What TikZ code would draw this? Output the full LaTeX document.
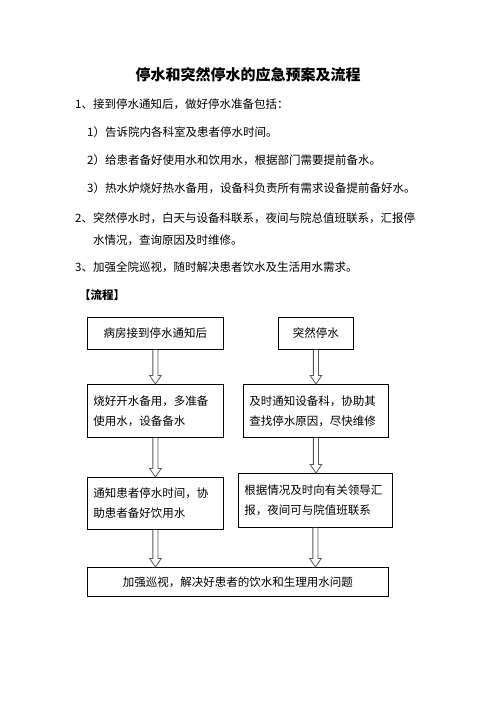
\documentclass[tikz,border=0pt]{standalone}
\usepackage{fontspec}
\setmainfont{Noto Sans CJK SC}
\usetikzlibrary{calc}
\tikzset{
  txt/.style={anchor=west,inner sep=0pt,font=\fontsize{11.5}{20}\selectfont},
  box/.style={draw=black,line width=0.9pt,anchor=north west,inner xsep=6pt,inner ysep=0pt,
    font=\fontsize{11.5}{20}\selectfont},
  lbox/.style={box,align=left,text width=#1},
  harrow/.style={draw=black!65,line width=0.8pt,fill=white},
}
\newcommand\hollowarrow[2]{%
  \draw[harrow] let \p1=(#1), \p2=(#2) in
    (\x1-2.6pt,\y1) -- (\x1-2.6pt,\y2+8.5pt) -- (\x1-5.8pt,\y2+8.5pt) -- (\x1,\y2)
    -- (\x1+5.8pt,\y2+8.5pt) -- (\x1+2.6pt,\y2+8.5pt) -- (\x1+2.6pt,\y1);}
\begin{document}
\begin{tikzpicture}[x=1pt,y=-1pt]
\useasboundingbox[fill=white] (0,0) rectangle (496,702);
\node[inner sep=0pt,font=\fontsize{15}{18}\selectfont\bfseries] (title) at (248,75) {停水和突然停水的应急预案及流程};
\node[txt] (l1) at (75,104) {1、接到停水通知后，做好停水准备包括：};
\node[txt] (l2) at (87,132) {1）告诉院内各科室及患者停水时间。};
\node[txt] (l3) at (87,160) {2）给患者备好使用水和饮用水，根据部门需要提前备水。};
\node[txt] (l4) at (87,188) {3）热水炉烧好热水备用，设备科负责所有需求设备提前备好水。};
\node[txt] (l5) at (75,218) {2、突然停水时，白天与设备科联系，夜间与院总值班联系，汇报停};
\node[txt] (l6) at (93,240) {水情况，查询原因及时维修。};
\node[txt] (l7) at (75,267) {3、加强全院巡视，随时解决患者饮水及生活用水需求。};
\node[txt,font=\fontsize{11.5}{20}\selectfont\bfseries] (l8) at (79,295) {【流程】};

\node[box,minimum width=136,minimum height=32] (A) at (87,317) {病房接到停水通知后};
\node[box,minimum width=75,minimum height=32] (B) at (278,317) {突然停水};
\node[lbox=124,minimum height=53] (C) at (87,384) {烧好开水备用，多准备\\使用水，设备备水};
\node[lbox=133,minimum height=53] (D) at (243,384) {及时通知设备科，协助其\\查找停水原因，尽快维修};
\node[lbox=124,minimum height=52] (E) at (87,477) {通知患者停水时间，协\\助患者备好饮用水};
\node[lbox=142,minimum height=54] (F) at (238,473) {根据情况及时向有关领导汇\\报，夜间可与院值班联系};
\node[box,minimum width=301,minimum height=29] (G) at (87,567) {加强巡视，解决好患者的饮水和生理用水问题};

\hollowarrow{A.south}{C.north}
\hollowarrow{B.south}{D.north}
\hollowarrow{C.south}{E.north}
\hollowarrow{D.south}{F.north}
\hollowarrow{E.south}{G.north -| E.south}
\hollowarrow{F.south}{G.north -| F.south}
\end{tikzpicture}
\end{document}
